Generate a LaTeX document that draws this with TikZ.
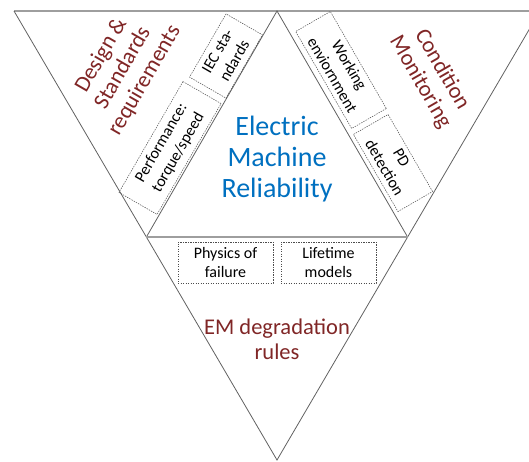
\documentclass[tikz,border=0pt]{standalone}
\usepackage{fontspec}
\setmainfont{Carlito}
\definecolor{emblue}{RGB}{0,112,192}
\definecolor{emred}{RGB}{128,38,38}
\begin{document}
\begin{tikzpicture}[x=1pt,y=-1pt]
\tikzset{
  edge/.style={draw=black!62, line width=0.8pt},
  rim/.style={draw=black!38, line width=1.6pt},
  tag/.style={draw=black!70, dash pattern=on 1.4pt off 1.1pt, line width=0.5pt,
    align=center, inner sep=0pt, text=black, font=\fontsize{16}{19.5}\selectfont},
  head/.style={align=center, text=emred, font=\fontsize{22.5}{25}\selectfont},
  core/.style={align=center, text=emblue, font=\fontsize{28}{31}\selectfont},
}
\useasboundingbox (0,0) rectangle (529,461);
\clip (0,0) rectangle (529,461);

% outer and inner triangles
\coordinate (TL) at (14,11);
\coordinate (TR) at (540,11);
\coordinate (B) at (277,460);
\coordinate (T) at (277,11);
\coordinate (L) at (146.4,237);
\coordinate (R) at (407.6,237);

\draw[rim] (TL) -- (TR);
\draw[edge] (TL) -- (B) -- (TR);
\draw[edge] (L) -- (T) -- (R);
\draw[rim] (L) -- (R);

% centre title
\node[core] (title) at (277,159) {Electric\\Machine\\Reliability};

% side headings
\node[head, rotate=60] (design) at (123,68) {Design \&\\Standards\\requirements};
\node[head, rotate=-60] (cond) at (431,76) {Condition\\Monitoring};
\node[head] (degr) at (277,339) {EM degradation\\rules};

% dashed tags
\node[tag, rotate=60, minimum width=73, minimum height=42] (iec) at (226,56) {IEC sta-\\ndards};
\node[tag, rotate=60, minimum width=128, minimum height=44] (perf) at (170,148) {Performance:\\torque/speed};
\node[tag, rotate=-60, minimum width=112, minimum height=40] (work) at (341,70) {Working\\enviornment};
\node[tag, rotate=-60, minimum width=89, minimum height=40] (pd) at (393,163) {PD\\detection};
\node[tag, minimum width=95, minimum height=41] (phys) at (225.5,262.5) {Physics of\\failure};
\node[tag, minimum width=95, minimum height=41] (life) at (328.5,262.5) {Lifetime\\models};
\end{tikzpicture}
\end{document}
